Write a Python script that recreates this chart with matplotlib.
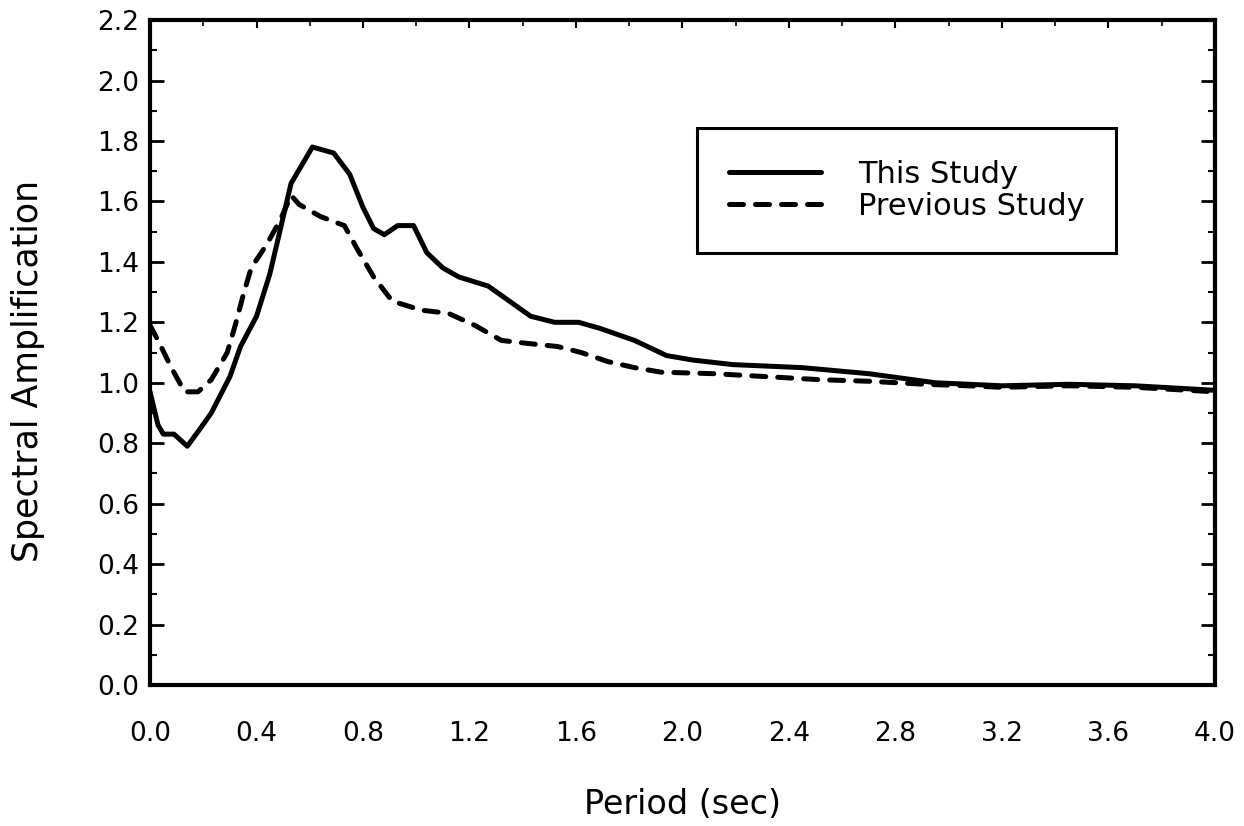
import matplotlib
matplotlib.use("Agg")
import matplotlib.pyplot as plt
from matplotlib.ticker import MultipleLocator, FormatStrFormatter

# spectral amplification vs period
this_period = [0.00, 0.03, 0.05, 0.09, 0.14, 0.19, 0.23, 0.30, 0.34, 0.40,
               0.45, 0.49, 0.53, 0.57, 0.61, 0.69, 0.75, 0.80, 0.84, 0.88,
               0.93, 0.99, 1.04, 1.10, 1.16, 1.27, 1.35, 1.43, 1.52, 1.61,
               1.69, 1.82, 1.94, 2.04, 2.19, 2.45, 2.70, 2.95, 3.20, 3.45,
               3.70, 4.00]
this_amp = [0.97, 0.86, 0.83, 0.83, 0.79, 0.85, 0.90, 1.02, 1.12, 1.22,
            1.36, 1.51, 1.66, 1.72, 1.78, 1.76, 1.69, 1.58, 1.51, 1.49,
            1.52, 1.52, 1.43, 1.38, 1.35, 1.32, 1.27, 1.22, 1.20, 1.20,
            1.18, 1.14, 1.09, 1.075, 1.06, 1.05, 1.03, 1.00, 0.99, 0.995,
            0.99, 0.975]

prev_period = [0.00, 0.03, 0.08, 0.13, 0.18, 0.23, 0.29, 0.32, 0.35, 0.38,
               0.44, 0.49, 0.53, 0.56, 0.64, 0.73, 0.78, 0.84, 0.91, 1.02,
               1.12, 1.22, 1.32, 1.42, 1.53, 1.62, 1.72, 1.82, 1.92, 2.12,
               2.32, 2.52, 2.70, 2.91, 3.07, 3.20, 3.45, 3.70, 4.00]
prev_amp = [1.19, 1.14, 1.05, 0.97, 0.97, 1.01, 1.10, 1.19, 1.29, 1.38,
            1.46, 1.54, 1.62, 1.59, 1.55, 1.52, 1.44, 1.35, 1.27, 1.24,
            1.23, 1.19, 1.14, 1.13, 1.12, 1.10, 1.07, 1.05, 1.035, 1.03,
            1.02, 1.01, 1.005, 0.995, 0.99, 0.985, 0.99, 0.985, 0.97]

legend_labels = ["This Study", "Previous Study"]

fig = plt.figure(figsize=(12.44, 8.26), dpi=100)
ax = fig.add_axes([0.1206, 0.1707, 0.856, 0.805])

ax.plot(this_period, this_amp, color="black", lw=3.6,
        solid_joinstyle="round", solid_capstyle="round", label=legend_labels[0])
ax.plot(prev_period, prev_amp, color="black", lw=3.6,
        dashes=(2.8, 2.4), dash_capstyle="round", label=legend_labels[1])

ax.set_xlim(0, 4.0)
ax.set_ylim(0, 2.2)
ax.xaxis.set_major_locator(MultipleLocator(0.4))
ax.xaxis.set_minor_locator(MultipleLocator(0.2))
ax.yaxis.set_major_locator(MultipleLocator(0.2))
ax.yaxis.set_minor_locator(MultipleLocator(0.1))
ax.xaxis.set_major_formatter(FormatStrFormatter("%.1f"))
ax.yaxis.set_major_formatter(FormatStrFormatter("%.1f"))

for sp in ax.spines.values():
    sp.set_linewidth(3.0)

ax.tick_params(axis="y", which="major", direction="in", length=10, width=2,
               left=True, right=True, labelsize=19, pad=8)
ax.tick_params(axis="y", which="minor", direction="in", length=5, width=1.5,
               left=True, right=True)
ax.tick_params(axis="x", which="major", direction="in", length=6, width=1.5,
               bottom=False, top=True, labelsize=19, pad=26)
ax.tick_params(axis="x", which="minor", direction="in", length=4, width=1.2,
               bottom=False, top=True)

ax.set_xlabel("Period (sec)", fontsize=24)
ax.xaxis.set_label_coords(0.5, -0.155)
ax.set_ylabel("Spectral Amplification", fontsize=25)
ax.yaxis.set_label_coords(-0.099, 0.472)

leg = ax.legend(loc="upper left", bbox_to_anchor=(0.514, 0.838), fontsize=22,
                frameon=True, fancybox=False, edgecolor="black", framealpha=1,
                handlelength=3.0, handletextpad=1.2, borderpad=1.05,
                labelspacing=0.1, borderaxespad=0)
leg.get_frame().set_linewidth(2.2)

fig.savefig("out.png", dpi=100, facecolor="white")
